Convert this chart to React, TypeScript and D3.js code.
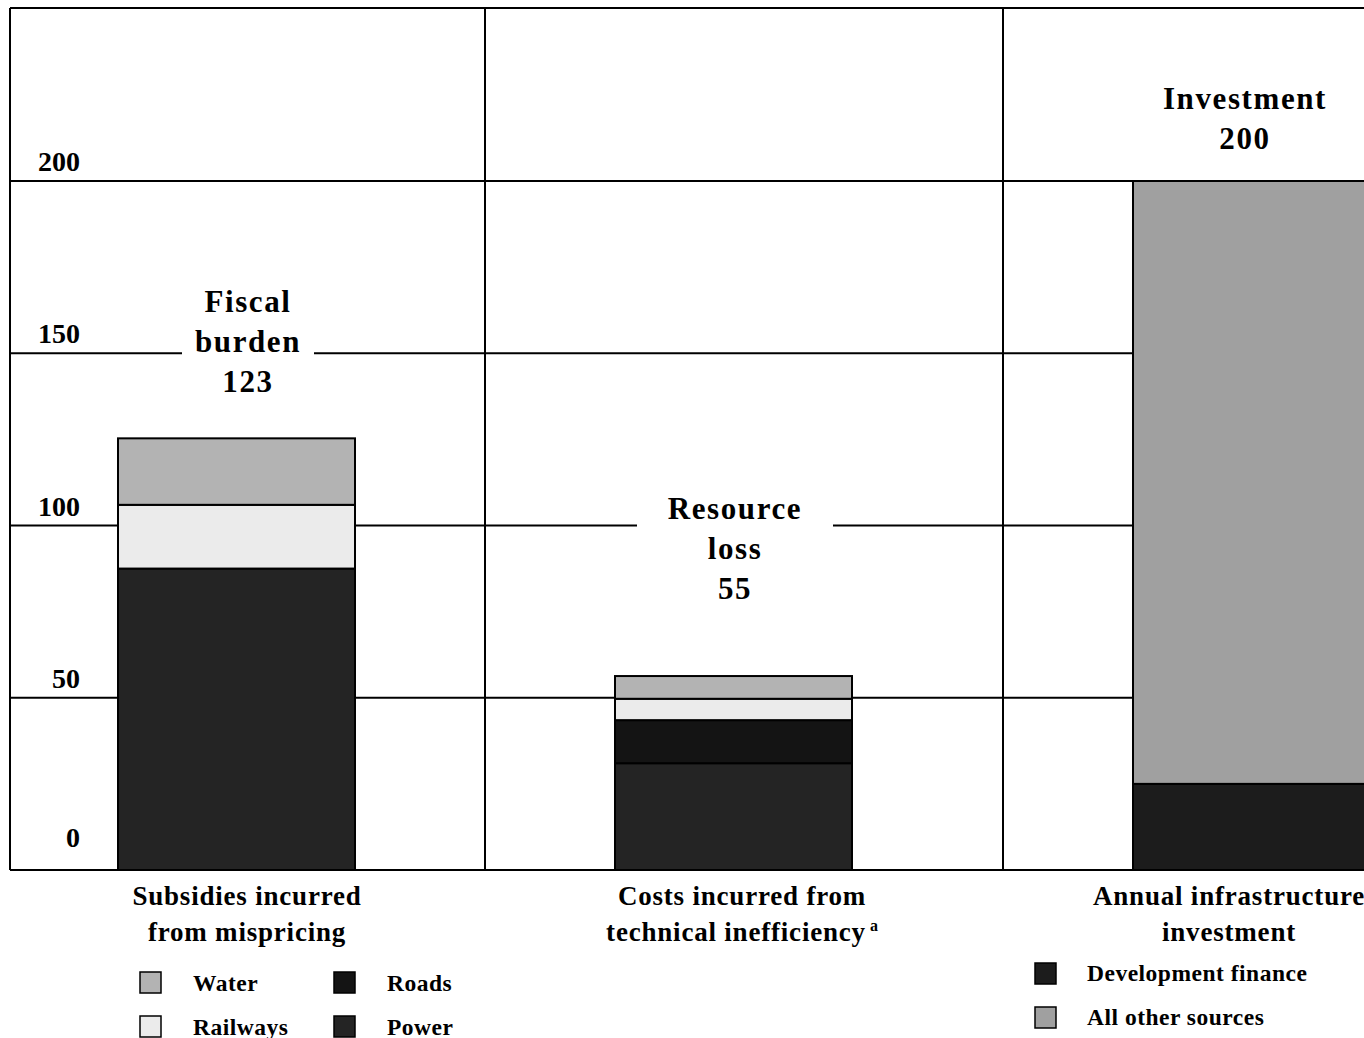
import React from 'react';
import * as d3 from 'd3';

// values in $ billion
const sectors = ['Power', 'Roads', 'Railways', 'Water'];
const fiscalBySector = [87.5, 0, 18.5, 19.3];
const resourceBySector = [31.0, 12.5, 6.2, 6.6];
const sources = ['Development finance', 'All other sources'];
const investmentBySource = [25, 175];
const yTicks = [0, 50, 100, 150, 200];

const categoryLines = [
  ['Subsidies incurred', 'from mispricing'],
  ['Costs incurred from', 'technical inefficiency'],
  ['Annual infrastructure', 'investment'],
];
const totalLabels = [
  ['Fiscal', 'burden', '123'],
  ['Resource', 'loss', '55'],
  ['Investment', '200'],
];
const sectorLegend = ['Water', 'Railways', 'Roads', 'Power'];

const sectorColor = d3.scaleOrdinal<string, string>()
  .domain(sectors)
  .range(['#242424', '#141414', '#ebebeb', '#b3b3b3']);
const sourceColor = d3.scaleOrdinal<string, string>()
  .domain(sources)
  .range(['#1c1c1c', '#a0a0a0']);

const W = 1364;
const H = 1038;
const FONT = '"Liberation Serif", "Times New Roman", serif';

// layout
const panelLeft = [10, 485, 1003];
const barLeft = [118, 615, 1133];
const barWidth = 237;
const labelCenter = [248, 735, 1245];
const labelTop = [162, 102, 221];
const labelGap = [66, 98, 0];
const categoryCenter = [247, 742, 1229];

export default function App() {
  const y = d3.scaleLinear().domain([0, 200]).range([870, 181]);
  const top = 8;

  const stackRows = [fiscalBySector, resourceBySector].map((vals) => {
    const row: Record<string, number> = {};
    sectors.forEach((s, i) => (row[s] = vals[i]));
    return row;
  });
  const series = d3.stack<Record<string, number>>().keys(sectors)(stackRows);

  const invRow: Record<string, number> = {};
  sources.forEach((s, i) => (invRow[s] = investmentBySource[i]));
  const invSeries = d3.stack<Record<string, number>>().keys(sources)([invRow]);

  return (
    <svg width={W} height={H} style={{ position: 'absolute', left: 0, top: 0 }} fontFamily={FONT} fontWeight="bold">
      <rect width={W} height={H} fill="#fff" />
      {/* gridlines */}
      {yTicks.map((t) => (
        <line key={t} x1={panelLeft[0]} x2={W} y1={y(t)} y2={y(t)} stroke="#000" strokeWidth={2} />
      ))}
      <line x1={panelLeft[0]} x2={W} y1={top} y2={top} stroke="#000" strokeWidth={2} />
      {panelLeft.map((x, i) => (
        <line key={i} x1={x} x2={x} y1={top} y2={y(0)} stroke="#000" strokeWidth={2} />
      ))}

      {/* tick labels */}
      {yTicks.map((t) => (
        <text key={t} x={80} y={y(t) - (t === 0 ? 23 : 10)} textAnchor="end" fontSize={28}>{t}</text>
      ))}

      {/* stacked sector bars */}
      {series.map((s) =>
        s.map((d, i) =>
          d[1] - d[0] > 0 ? (
            <rect key={s.key + i} x={barLeft[i]} width={barWidth} y={y(d[1])} height={y(d[0]) - y(d[1])}
              fill={sectorColor(s.key)} stroke="#000" strokeWidth={2} />
          ) : null
        )
      )}
      {invSeries.map((s) => (
        <rect key={s.key} x={barLeft[2]} width={barWidth} y={y(s[0][1])} height={y(s[0][0]) - y(s[0][1])}
          fill={sourceColor(s.key)} stroke="#000" strokeWidth={2} />
      ))}

      {/* total labels */}
      {totalLabels.map((lines, i) => {
        const yt = y(labelTop[i]);
        return (
          <g key={i}>
            {labelGap[i] > 0 && (
              <rect x={labelCenter[i] - labelGap[i]} width={labelGap[i] * 2} y={yt - 30} height={lines.length * 40 + 4} fill="#fff" />
            )}
            {lines.map((l, j) => (
              <text key={j} x={labelCenter[i]} y={yt + j * 40} textAnchor="middle" fontSize={31} letterSpacing={1.6}>{l}</text>
            ))}
          </g>
        );
      })}

      {/* category labels */}
      {categoryLines.map((lines, i) => (
        <text key={i} textAnchor="middle" fontSize={27} letterSpacing={0.8}>
          {lines.map((l, j) => (
            <tspan key={j} x={categoryCenter[i]} y={905 + j * 36}>
              {l}
              {i === 1 && j === 1 ? <tspan fontSize={16} dy={-10} letterSpacing={0}>{' a'}</tspan> : null}
            </tspan>
          ))}
        </text>
      ))}

      {/* sector legend */}
      {sectorLegend.map((s, k) => {
        const col = Math.floor(k / 2);
        const row = k % 2;
        const x = 140 + col * 194;
        const yy = 972 + row * 44;
        return (
          <g key={s}>
            <rect x={x} y={yy} width={21} height={21} fill={sectorColor(s)} stroke="#000" strokeWidth={1.5} />
            <text x={x + 53} y={yy + 19} fontSize={23.5} letterSpacing={0.5}>{s}</text>
          </g>
        );
      })}
      {/* source legend */}
      {sources.map((s, k) => (
        <g key={s}>
          <rect x={1035} y={963 + k * 44} width={21} height={21} fill={sourceColor(s)} stroke="#000" strokeWidth={1.5} />
          <text x={1087} y={981 + k * 44} fontSize={23.5} letterSpacing={0.5}>{s}</text>
        </g>
      ))}
    </svg>
  );
}
